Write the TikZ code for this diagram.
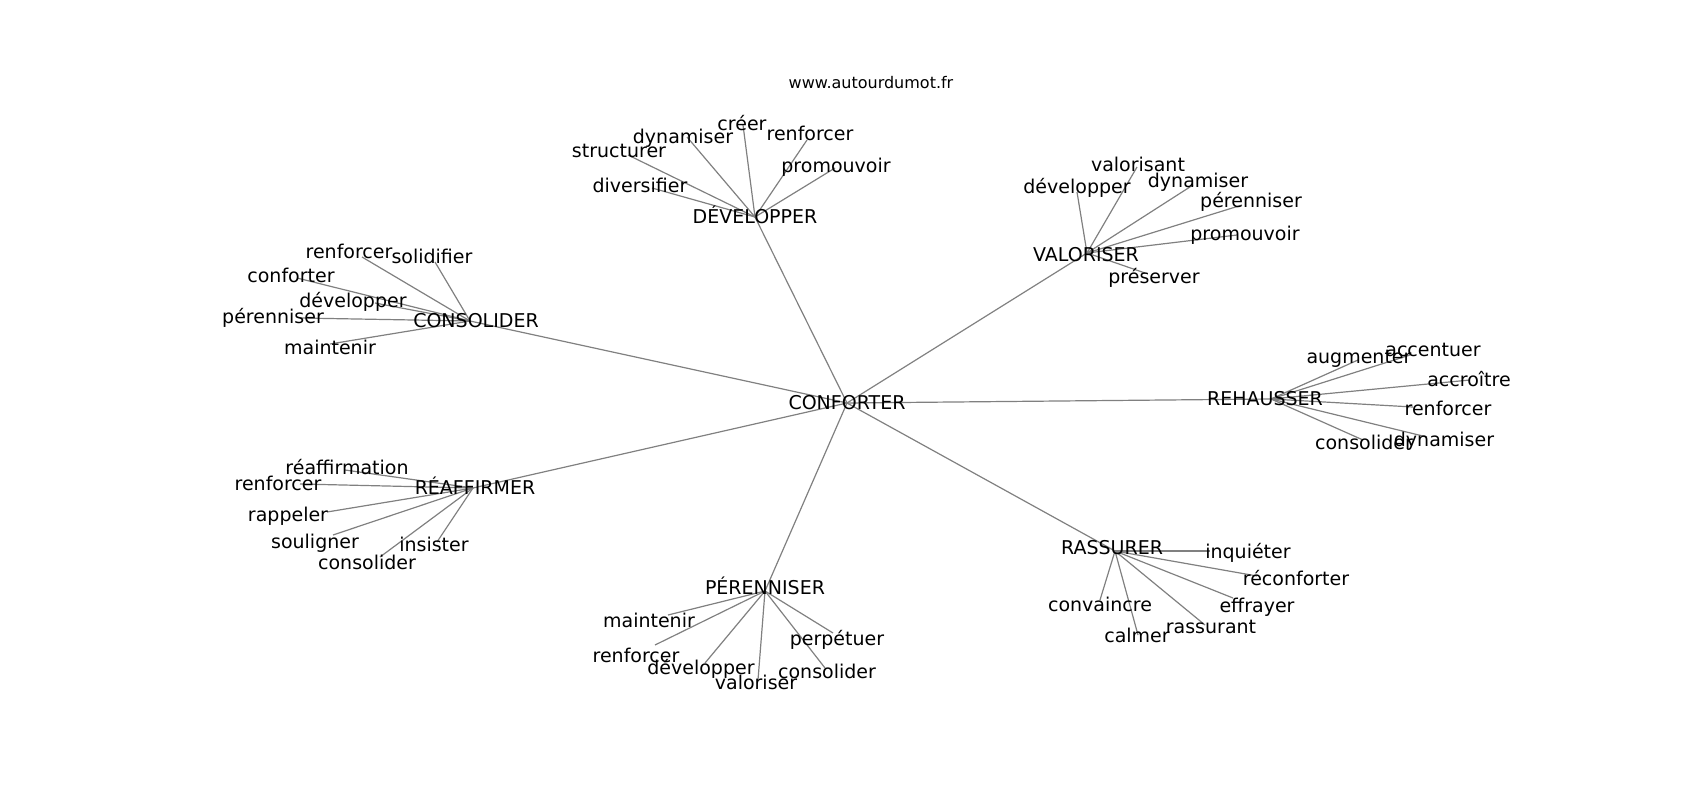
\documentclass[tikz,border=0pt]{standalone}
\usepackage{fontspec}
\setmainfont{DejaVu Sans}
\begin{document}
\begin{tikzpicture}[x=1pt,y=-1pt,
  lbl/.style={inner sep=0pt,anchor=center,text height=13.8pt,text depth=0pt,font=\fontsize{19}{19}\selectfont},
  ttl/.style={inner sep=0pt,anchor=center,text height=11.8pt,text depth=0pt,font=\fontsize{16}{16}\selectfont},
  edge/.style={draw=black!50,line width=1.2pt}]
\useasboundingbox (0,0) rectangle (1700,800);
% ---- node positions
\coordinate (C) at (847,403);
\coordinate (DEV) at (755,217);
\coordinate (VAL) at (1087,253);
\coordinate (CONS) at (470,321);
\coordinate (REH) at (1271,399);
\coordinate (REAF) at (473,488);
\coordinate (PER) at (765,591);
\coordinate (RAS) at (1115,551);
% DEVELOPPER leaves
\coordinate (d1) at (628,155);
\coordinate (d2) at (652,188);
\coordinate (d3) at (687,137);
\coordinate (d4) at (743,125);
\coordinate (d5) at (807,140);
\coordinate (d6) at (835,168);
% VALORISER leaves
\coordinate (v1) at (1077,192);
\coordinate (v2) at (1137,167);
\coordinate (v3) at (1193,185);
\coordinate (v4) at (1242,205);
\coordinate (v5) at (1237,235);
\coordinate (v6) at (1145,273);
% CONSOLIDER leaves
\coordinate (c1) at (362,257);
\coordinate (c2) at (435,262);
\coordinate (c3) at (297,278);
\coordinate (c4) at (375,303);
\coordinate (c5) at (300,318);
\coordinate (c6) at (330,344);
% REHAUSSER leaves
\coordinate (r1) at (1358,360);
\coordinate (r2) at (1410,355);
\coordinate (r3) at (1470,380);
\coordinate (r4) at (1413,407);
\coordinate (r5) at (1427,437);
\coordinate (r6) at (1363,440);
% REAFFIRMER leaves
\coordinate (a1) at (345,470);
\coordinate (a2) at (300,484);
\coordinate (a3) at (327,512);
\coordinate (a4) at (333,535);
\coordinate (a5) at (380,557);
\coordinate (a6) at (437,542);
% PERENNISER leaves
\coordinate (p1) at (668,615);
\coordinate (p2) at (655,645);
\coordinate (p3) at (705,663);
\coordinate (p4) at (758,680);
\coordinate (p5) at (825,668);
\coordinate (p6) at (833,633);
% RASSURER leaves
\coordinate (s1) at (1210,551);
\coordinate (s2) at (1257,576);
\coordinate (s3) at (1233,598);
\coordinate (s4) at (1205,625);
\coordinate (s5) at (1138,635);
\coordinate (s6) at (1100,600);
% ---- edges
\foreach \h in {DEV,VAL,CONS,REH,REAF,PER,RAS} \draw[edge] (C) -- (\h);
\foreach \l in {d1,d2,d3,d4,d5,d6} \draw[edge] (DEV) -- (\l);
\foreach \l in {v1,v2,v3,v4,v5,v6} \draw[edge] (VAL) -- (\l);
\foreach \l in {c1,c2,c3,c4,c5,c6} \draw[edge] (CONS) -- (\l);
\foreach \l in {r1,r2,r3,r4,r5,r6} \draw[edge] (REH) -- (\l);
\foreach \l in {a1,a2,a3,a4,a5,a6} \draw[edge] (REAF) -- (\l);
\foreach \l in {p1,p2,p3,p4,p5,p6} \draw[edge] (PER) -- (\l);
\foreach \l in {s1,s2,s3,s4,s5,s6} \draw[edge] (RAS) -- (\l);
% ---- labels
\node[ttl] (title) at (871,83) {www.autourdumot.fr};
\node[lbl] (tC) at (847,403) {CONFORTER};
\node[lbl] (tDEV) at (755,217) {DÉVELOPPER};
\node[lbl] (tVAL) at (1086,255) {VALORISER};
\node[lbl] (tCONS) at (476,321) {CONSOLIDER};
\node[lbl] (tREH) at (1265,399) {REHAUSSER};
\node[lbl] (tREAF) at (475,488) {RÉAFFIRMER};
\node[lbl] (tPER) at (765,588) {PÉRENNISER};
\node[lbl] (tRAS) at (1112,548) {RASSURER};
%
\node[lbl] (td1) at (619,151) {structurer};
\node[lbl] (td2) at (640,186) {diversifier};
\node[lbl] (td3) at (683,137) {dynamiser};
\node[lbl] (td4) at (742,124) {créer};
\node[lbl] (td5) at (810,134) {renforcer};
\node[lbl] (td6) at (836,166) {promouvoir};
%
\node[lbl] (tv1) at (1077,187) {développer};
\node[lbl] (tv2) at (1138,165) {valorisant};
\node[lbl] (tv3) at (1198,181) {dynamiser};
\node[lbl] (tv4) at (1251,201) {pérenniser};
\node[lbl] (tv5) at (1245,234) {promouvoir};
\node[lbl] (tv6) at (1154,277) {préserver};
%
\node[lbl] (tc1) at (349,252) {renforcer};
\node[lbl] (tc2) at (432,257) {solidifier};
\node[lbl] (tc3) at (291,276) {conforter};
\node[lbl] (tc4) at (353,301) {développer};
\node[lbl] (tc5) at (273,317) {pérenniser};
\node[lbl] (tc6) at (330,348) {maintenir};
%
\node[lbl] (tr1) at (1359,357) {augmenter};
\node[lbl] (tr2) at (1433,350) {accentuer};
\node[lbl] (tr3) at (1469,380) {accroître};
\node[lbl] (tr4) at (1448,409) {renforcer};
\node[lbl] (tr5) at (1444,440) {dynamiser};
\node[lbl] (tr6) at (1364,443) {consolider};
%
\node[lbl] (ta1) at (347,468) {réaffirmation};
\node[lbl] (ta2) at (278,484) {renforcer};
\node[lbl] (ta3) at (288,515) {rappeler};
\node[lbl] (ta4) at (315,542) {souligner};
\node[lbl] (ta5) at (367,563) {consolider};
\node[lbl] (ta6) at (434,545) {insister};
%
\node[lbl] (tp1) at (649,621) {maintenir};
\node[lbl] (tp2) at (636,656) {renforcer};
\node[lbl] (tp3) at (701,668) {développer};
\node[lbl] (tp4) at (756,683) {valoriser};
\node[lbl] (tp5) at (827,672) {consolider};
\node[lbl] (tp6) at (837,639) {perpétuer};
%
\node[lbl] (ts1) at (1248,552) {inquiéter};
\node[lbl] (ts2) at (1296,579) {réconforter};
\node[lbl] (ts3) at (1257,606) {effrayer};
\node[lbl] (ts4) at (1211,627) {rassurant};
\node[lbl] (ts5) at (1137,636) {calmer};
\node[lbl] (ts6) at (1100,605) {convaincre};
\end{tikzpicture}
\end{document}
